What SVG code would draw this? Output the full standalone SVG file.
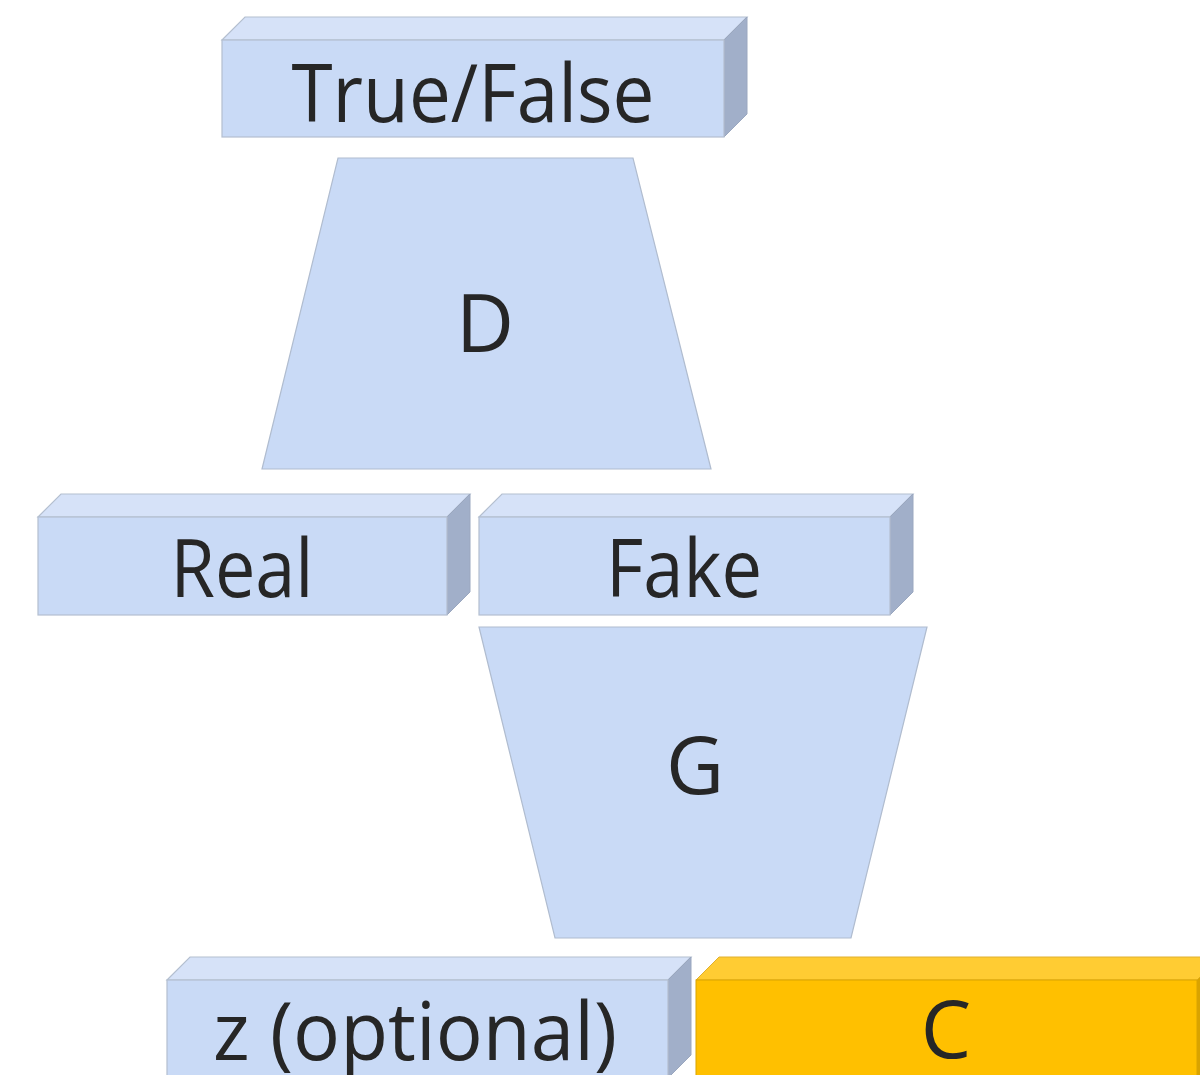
<svg xmlns="http://www.w3.org/2000/svg" width="1200" height="1075" viewBox="0 0 1200 1075">
  <style>
    .front { fill: #c9daf6; stroke: #b4bfd0; stroke-width: 1.2; }
    .top { fill: #d6e2f8; stroke: #b4bfd0; stroke-width: 1.2; }
    .side { fill: #a1afc9; stroke: #9aa7bf; stroke-width: 1; }
    .trap { fill: #c9daf6; stroke: #b0bccf; stroke-width: 1.2; }
    .gfront { fill: #ffc000; stroke: #d9a400; stroke-width: 1; }
    .gtop { fill: #ffcc33; stroke: #e0b030; stroke-width: 1; }
    .gside { fill: #d9a300; }
    .lbl { font-family: "Open Sans", "Noto Sans", "Liberation Sans", sans-serif; font-size: 80px; fill: #262626; text-anchor: middle; }
  </style>
  <rect width="1200" height="1075" fill="#ffffff"/>

  <!-- output block -->
  <g id="true-false">
    <polygon class="top" points="222,40 245,17 747,17 724,40"/>
    <polygon class="side" points="724,40 747,17 747,114 724,137"/>
    <rect class="front" x="222" y="40" width="502" height="97"/>
    <text class="lbl" x="473" y="122" textLength="363" lengthAdjust="spacingAndGlyphs">True/False</text>
  </g>

  <!-- discriminator -->
  <g id="discriminator">
    <polygon class="trap" points="338,158 633,158 711,469 262,469"/>
    <text class="lbl" x="485" y="352">D</text>
  </g>

  <g id="real">
    <polygon class="top" points="38,517 61,494 470,494 447,517"/>
    <polygon class="side" points="447,517 470,494 470,592 447,615"/>
    <rect class="front" x="38" y="517" width="409" height="98"/>
    <text class="lbl" x="242" y="597" textLength="143" lengthAdjust="spacingAndGlyphs">Real</text>
  </g>

  <g id="fake">
    <polygon class="top" points="479,517 502,494 913,494 890,517"/>
    <polygon class="side" points="890,517 913,494 913,592 890,615"/>
    <rect class="front" x="479" y="517" width="411" height="98"/>
    <text class="lbl" x="684" y="597" textLength="156" lengthAdjust="spacingAndGlyphs">Fake</text>
  </g>

  <!-- generator -->
  <g id="generator">
    <polygon class="trap" points="479,627 927,627 851,938 555,938"/>
    <text class="lbl" x="695" y="794">G</text>
  </g>

  <g id="z">
    <polygon class="top" points="167,980 190,957 691,957 668,980"/>
    <polygon class="side" points="668,980 691,957 691,1055 668,1078"/>
    <rect class="front" x="167" y="980" width="501" height="100"/>
    <text class="lbl" x="415" y="1060" textLength="404" lengthAdjust="spacingAndGlyphs">z (optional)</text>
  </g>

  <g id="c">
    <polygon class="gtop" points="696,980 719,957 1220,957 1197,980"/>
    <polygon class="gside" points="1197,980 1220,957 1220,1055 1197,1078"/>
    <rect class="gfront" x="696" y="980" width="501" height="100"/>
    <text class="lbl" x="946" y="1058">C</text>
  </g>

  <g id="connectors"/>
</svg>
